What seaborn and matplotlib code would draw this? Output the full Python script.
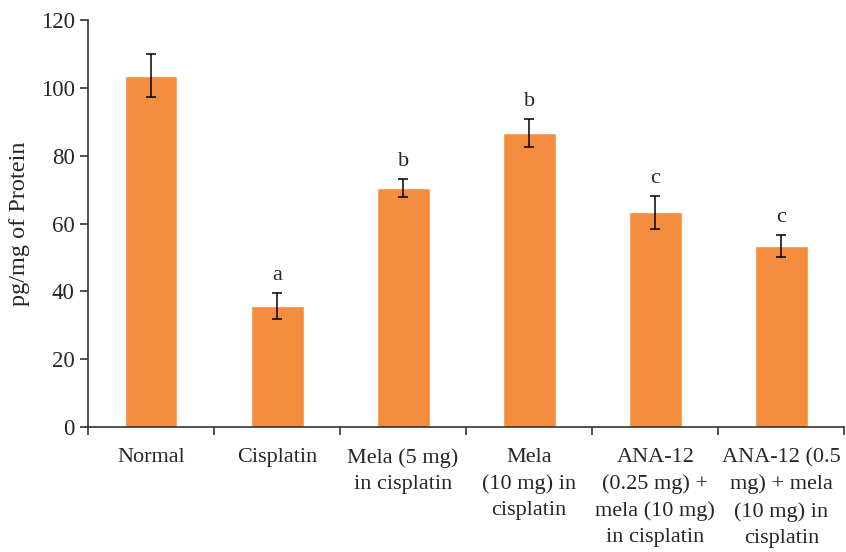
import numpy as np
import pandas as pd
import seaborn as sns
import matplotlib.pyplot as plt

# --- data ---
groups = [
    'Normal',
    'Cisplatin',
    'Mela (5 mg)\nin cisplatin',
    'Mela\n(10 mg) in\ncisplatin',
    'ANA-12\n(0.25 mg) +\nmela (10 mg)\nin cisplatin',
    'ANA-12 (0.5\nmg) + mela\n(10 mg) in\ncisplatin',
]
means = [103.5, 35.7, 70.5, 86.7, 63.3, 53.4]
errors = [6.3, 3.8, 2.7, 4.2, 4.8, 3.2]
letters = ['', 'a', 'b', 'b', 'c', 'c']

df = pd.DataFrame({'group': groups, 'value': means})

sns.set_style('ticks')
plt.rcParams['font.family'] = ['Liberation Serif', 'DejaVu Serif']

fig = plt.figure(figsize=(8.46, 5.52), dpi=100)
ax = fig.add_axes([0.104, 0.226, 0.894, 0.738])

bar_color = '#F58D3E'
sns.barplot(data=df, x='group', y='value', color=bar_color, width=0.42,
            saturation=1, ax=ax, errorbar=None)

x = np.arange(len(groups))
ax.errorbar(x, means, yerr=errors, fmt='none', ecolor='black',
            elinewidth=1.1, capsize=3.5, capthick=1.1)

for xi, m, e, lab in zip(x, means, errors, letters):
    if lab:
        ax.text(xi, m + e + 2.3, lab, ha='center', va='bottom', fontsize=16)

ax.set_xlim(-0.5, len(groups) - 0.5)
ax.set_ylim(0, 120)
ax.set_yticks(range(0, 121, 20))
ax.set_xlabel('')
ax.set_ylabel('pg/mg of Protein', fontsize=17.5, labelpad=8)

# ticks at category boundaries, labels at centres
ax.set_xticks(x)
ax.set_xticklabels(groups, fontsize=16, linespacing=1.5)
ax.set_xticks(np.arange(-0.5, len(groups), 1.0), minor=True)
ax.tick_params(axis='x', which='major', length=0, pad=15)
ax.tick_params(axis='x', which='minor', length=6, width=1.2, color='#333333')
ax.tick_params(axis='y', labelsize=16.5, length=6, width=1.2, color='#333333')

sns.despine(ax=ax)
for side in ['left', 'bottom']:
    ax.spines[side].set_color('#333333')
    ax.spines[side].set_linewidth(1.2)

fig.savefig('out.png', dpi=100)
